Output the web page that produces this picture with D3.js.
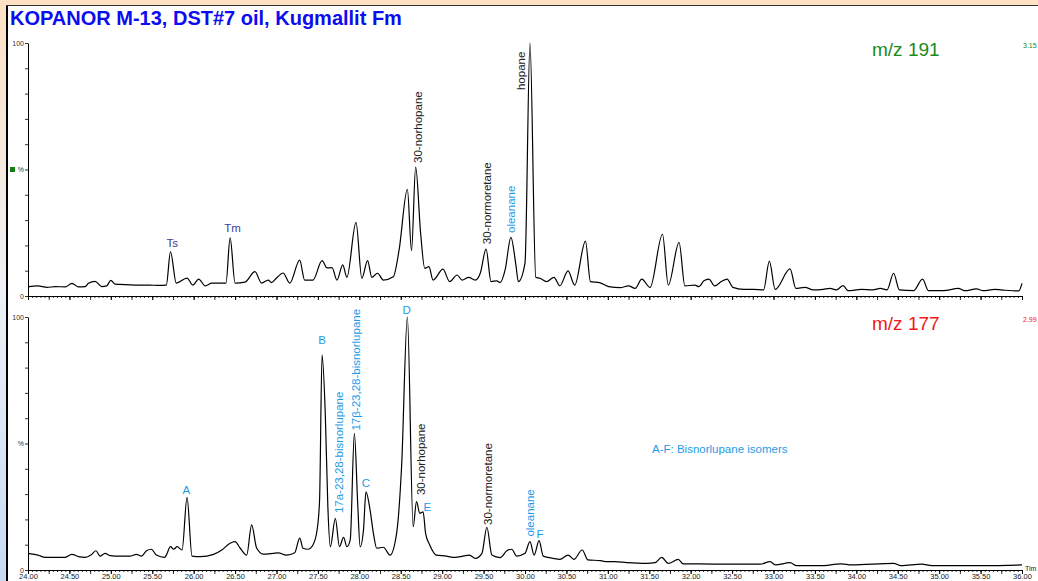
<!DOCTYPE html>
<html>
<head>
<meta charset="utf-8">
<script src="https://cdn.jsdelivr.net/npm/d3@7"></script>
<style>
  body { margin: 0; }
  svg { display: block; font-family: Arial, "Liberation Sans", sans-serif; }
</style>
</head>
<body>
<svg id="Chartsvg" width="1038" height="581"></svg>
<script>
// retention time (min), relative intensity (%)
var trace191 = [
  [24.00,3.6],[24.12,4.0],[24.23,3.4],[24.33,3.7],[24.45,3.6],[24.53,5.0],[24.61,3.6],[24.69,3.7],
  [24.73,5.0],[24.81,5.8],[24.89,3.7],[24.95,4.0],[25.00,6.2],[25.05,4.7],[25.11,4.6],[25.29,4.3],
  [25.47,4.3],[25.57,4.2],[25.67,4.3],[25.72,17.5],[25.79,5.1],[25.92,7.1],[25.99,4.3],[26.06,6.7],
  [26.14,4.0],[26.22,5.1],[26.35,5.1],[26.39,5.1],[26.44,23.0],[26.50,5.1],[26.62,5.5],[26.74,9.6],
  [26.82,5.1],[26.90,6.3],[26.94,5.3],[27.00,7.1],[27.08,9.1],[27.16,5.1],[27.28,14.2],[27.34,6.3],
  [27.44,6.3],[27.55,14.0],[27.61,11.1],[27.67,11.2],[27.73,6.3],[27.80,12.3],[27.85,7.4],[27.96,29.1],
  [28.03,7.0],[28.10,14.0],[28.15,7.4],[28.22,9.0],[28.29,6.3],[28.41,7.6],[28.48,18.2],[28.58,42.2],
  [28.63,17.9],[28.68,50.9],[28.74,24.8],[28.79,10.9],[28.84,11.6],[28.89,6.3],[29.01,10.6],[29.09,5.7],
  [29.18,8.3],[29.24,6.3],[29.32,7.4],[29.40,6.3],[29.46,9.0],[29.53,18.5],[29.59,5.7],[29.66,6.0],
  [29.70,5.3],[29.76,10.3],[29.83,23.2],[29.89,12.3],[29.92,5.7],[30.00,13.0],[30.06,100],[30.13,7.4],
  [30.18,7.0],[30.26,5.7],[30.35,7.4],[30.42,4.0],[30.52,9.9],[30.60,4.3],[30.73,21.7],[30.79,5.7],
  [30.90,5.3],[31.01,3.7],[31.15,3.3],[31.25,4.0],[31.33,3.0],[31.41,6.7],[31.51,3.4],[31.66,24.4],
  [31.73,4.3],[31.86,21.2],[31.93,4.0],[32.05,4.3],[32.10,3.7],[32.16,6.0],[32.22,6.7],[32.29,4.0],
  [32.37,5.7],[32.44,6.7],[32.51,3.4],[32.64,2.6],[32.76,2.6],[32.88,2.4],[32.95,13.8],[33.02,2.6],
  [33.20,10.7],[33.27,3.0],[33.38,3.4],[33.48,2.4],[33.60,2.6],[33.68,3.0],[33.76,2.4],[33.84,4.1],
  [33.90,2.1],[34.06,2.6],[34.20,2.4],[34.29,3.0],[34.37,2.4],[34.45,9.0],[34.52,2.4],[34.69,2.1],
  [34.80,6.7],[34.87,2.1],[35.05,2.1],[35.23,3.0],[35.31,2.1],[35.45,2.8],[35.53,2.1],[35.67,2.6],
  [35.75,2.4],[35.96,2.0],[36.00,5.0]
];

var trace177 = [
  [24.00,6.6],[24.06,6.3],[24.12,5.9],[24.21,5.0],[24.33,5.0],[24.45,5.0],[24.53,6.2],[24.61,5.3],
  [24.69,5.0],[24.76,5.9],[24.82,7.6],[24.87,5.5],[24.93,6.6],[24.99,5.7],[25.11,5.5],[25.23,5.5],
  [25.31,6.2],[25.37,5.5],[25.43,7.6],[25.49,8.2],[25.55,5.9],[25.65,5.0],[25.67,5.9],[25.72,9.2],
  [25.76,8.2],[25.80,9.2],[25.86,7.9],[25.92,28.7],[25.98,5.5],[26.08,5.3],[26.24,6.2],[26.34,7.9],
  [26.44,10.6],[26.50,11.2],[26.56,8.7],[26.64,5.9],[26.70,17.8],[26.76,8.7],[26.84,6.3],[26.96,6.6],
  [27.02,6.8],[27.12,5.9],[27.22,6.8],[27.28,12.6],[27.32,8.6],[27.38,8.2],[27.44,9.9],[27.49,15.8],
  [27.52,27.7],[27.55,85.0],[27.59,60.6],[27.62,25.0],[27.65,9.2],[27.71,20.4],[27.76,9.2],[27.81,12.9],
  [27.85,9.2],[27.89,11.9],[27.94,54.0],[27.98,26.4],[28.01,9.2],[28.05,15.8],[28.08,30.9],[28.13,23.7],
  [28.17,14.5],[28.21,8.6],[28.29,9.0],[28.37,5.9],[28.45,14.5],[28.51,40.8],[28.58,100],[28.65,17.1],
  [28.69,27.0],[28.73,22.4],[28.77,23.0],[28.80,14.5],[28.85,9.9],[28.93,5.9],[29.05,5.5],[29.13,5.0],
  [29.22,5.3],[29.33,5.9],[29.40,4.6],[29.48,6.6],[29.54,16.9],[29.60,5.9],[29.70,4.9],[29.78,7.6],
  [29.84,8.2],[29.90,5.5],[30.00,6.6],[30.06,11.2],[30.11,5.9],[30.17,11.6],[30.22,5.5],[30.34,4.6],
  [30.42,4.2],[30.52,5.9],[30.59,4.2],[30.69,7.9],[30.76,4.0],[30.91,3.7],[30.99,3.3],[31.08,3.3],
  [31.23,2.9],[31.47,2.6],[31.57,2.9],[31.65,5.0],[31.73,2.6],[31.85,4.2],[31.91,2.4],[32.11,2.4],
  [32.43,2.3],[32.64,2.3],[32.84,2.3],[32.96,3.3],[33.02,2.0],[33.20,2.9],[33.28,1.7],[33.56,1.7],
  [33.82,2.4],[33.94,2.0],[34.45,2.6],[34.54,1.7],[34.79,2.3],[34.91,1.7],[35.55,1.7],[36.00,2.0]
];

// peak labels: time, %, text, colour, rotated
var labels191 = [
  [25.74,19.4,"Ts","#3d3d99",false],
  [26.47,25.3,"Tm","#3d3d99",false],
  [28.71,52.6,"30-norhopane","#222",true],
  [29.54,20.5,"30-normoretane","#222",true],
  [29.83,24.9,"oleanane","#1e9be6",true],
  [29.95,81.4,"hopane","#222",true]
];
var labels177 = [
  [25.91,30.0,"A","#1e9be6",false],
  [27.55,89.3,"B","#1e9be6",false],
  [27.75,22.5,"17a-23,28-bisnorlupane","#1e9be6",true],
  [27.96,55.1,"17\u03b2-23,28-bisnorlupane","#1e9be6",true],
  [28.08,32.8,"C","#1e9be6",false],
  [28.57,101.2,"D","#1e9be6",false],
  [28.75,29.6,"30-norhopane","#222",true],
  [28.82,23.3,"E","#1e9be6",false],
  [29.55,17.8,"30-normoretane","#222",true],
  [30.06,13.2,"oleanane","#1e9be6",true],
  [30.18,12.8,"F","#1e9be6",false]
];

var timeTicks = d3.range(0, 25).map(function(i) { return 24 + i * 0.5; });
var yTicks = [0,10,20,30,40,50,60,70,80,90,100];

var svg = d3.select("#Chartsvg"),
    width = +svg.attr("width"),
    height = +svg.attr("height");

// background frame
var defs = svg.append("defs");
var bg = defs.append("linearGradient").attr("id", "bg")
    .attr("x1", 0).attr("y1", 0).attr("x2", 0).attr("y2", 1);
bg.append("stop").attr("offset", "0%").attr("stop-color", "#fde1c2");
bg.append("stop").attr("offset", "50%").attr("stop-color", "#eef1f6");
bg.append("stop").attr("offset", "100%").attr("stop-color", "#c7d9f3");
svg.append("rect").attr("width", width).attr("height", height).attr("fill", "url(#bg)");
svg.append("rect").attr("x", 8).attr("y", 5).attr("width", width - 8).attr("height", height - 5).attr("fill", "#fff");
svg.append("line").attr("x1", 7).attr("x2", 7).attr("y1", 5).attr("y2", height)
    .attr("stroke", "#000").attr("stroke-width", 2);
svg.append("line").attr("x1", 6).attr("x2", width).attr("y1", 5.5).attr("y2", 5.5)
    .attr("stroke", "#333").attr("stroke-width", 1);

svg.append("text").attr("x", 10).attr("y", 25)
    .attr("font-size", 20).attr("font-weight", "bold").attr("fill", "#0c0cf0")
    .text("KOPANOR M-13, DST#7 oil, Kugmallit Fm");

var x = d3.scaleLinear().domain([24, 36]).range([28, 1022]);

function drawPanel(top, bottom, trace, labels, mzText, mzColor, scaleText, marker, showLabels) {
    var y = d3.scaleLinear().domain([0, 100]).range([bottom, top]);
    var g = svg.append("g");

    // x axis: fine, mid and major ticks
    g.append("g").attr("transform", "translate(0," + bottom + ")")
        .call(d3.axisBottom(x).tickValues(d3.range(0, 241).map(function(i) { return 24 + i * 0.05; }))
            .tickSize(2).tickSizeOuter(0).tickFormat(""));
    g.append("g").attr("transform", "translate(0," + bottom + ")")
        .call(d3.axisBottom(x).tickValues(d3.range(0, 49).map(function(i) { return 24 + i * 0.25; }))
            .tickSize(4).tickSizeOuter(0).tickFormat(""));
    var xa = g.append("g").attr("transform", "translate(0," + bottom + ")")
        .call(d3.axisBottom(x).tickValues(timeTicks).tickSize(4).tickSizeOuter(0)
            .tickPadding(0)
            .tickFormat(showLabels ? d3.format(".2f") : ""));
    g.selectAll(".domain").attr("stroke", "#000");
    g.selectAll(".tick line").attr("stroke", "#000").attr("stroke-width", 0.8);
    xa.selectAll("text").attr("font-size", 7.5).attr("fill", "#222").attr("font-family", "Arial, sans-serif");

    // y axis
    var ya = g.append("g").attr("transform", "translate(28,0)")
        .call(d3.axisLeft(y).tickValues(yTicks).tickSize(3).tickSizeOuter(0).tickPadding(1)
            .tickFormat(function(d) { return d === 100 ? "100" : d === 50 ? "%" : d === 0 ? "0" : ""; }));
    ya.select(".domain").attr("stroke", "#000");
    ya.selectAll(".tick line").attr("stroke", "#000").attr("stroke-width", 0.8);
    ya.selectAll("text").attr("font-size", 7).attr("fill", "#333").attr("font-family", "Arial, sans-serif");

    if (marker) {
        g.append("rect").attr("x", 10).attr("y", y(50) - 2.5).attr("width", 5).attr("height", 5)
            .attr("fill", "#108010");
    }

    var line = d3.line()
        .x(function(d) { return x(d[0]); })
        .y(function(d) { return y(d[1]); })
        .curve(d3.curveMonotoneX);
    g.append("path").datum(trace)
        .attr("fill", "none").attr("stroke", "#000").attr("stroke-width", 1.2)
        .attr("stroke-linejoin", "round")
        .attr("d", line);

    g.selectAll(".peak").data(labels).enter().append("text")
        .attr("class", "peak")
        .attr("font-size", 11.5)
        .attr("fill", function(d) { return d[3]; })
        .attr("text-anchor", function(d) { return d[4] ? "start" : "middle"; })
        .attr("dy", function(d) { return d[4] ? "0.35em" : 0; })
        .attr("transform", function(d) {
            return "translate(" + x(d[0]) + "," + y(d[1]) + ")" + (d[4] ? " rotate(-90)" : "");
        })
        .text(function(d) { return d[2]; });

    g.append("text").attr("x", 872).attr("y", y(100) + 13)
        .attr("font-size", 19).attr("fill", mzColor).text(mzText);
    g.append("text").attr("x", 1023).attr("y", y(100) + 5)
        .attr("font-size", 7).attr("fill", mzColor).text(scaleText);
    return y;
}

drawPanel(43, 296, trace191, labels191, "m/z 191", "#1a8a1a", "3.15", true, false);
var yb = drawPanel(317, 570, trace177, labels177, "m/z 177", "#f01818", "2.99", false, true);

svg.append("text").attr("x", 652).attr("y", yb(46.4))
    .attr("font-size", 11.5).attr("fill", "#1e9be6")
    .text("A-F: Bisnorlupane isomers");
svg.append("text").attr("x", 1025).attr("y", 570.5)
    .attr("font-size", 7).attr("fill", "#222").text("Tim");
</script>
</body>
</html>
